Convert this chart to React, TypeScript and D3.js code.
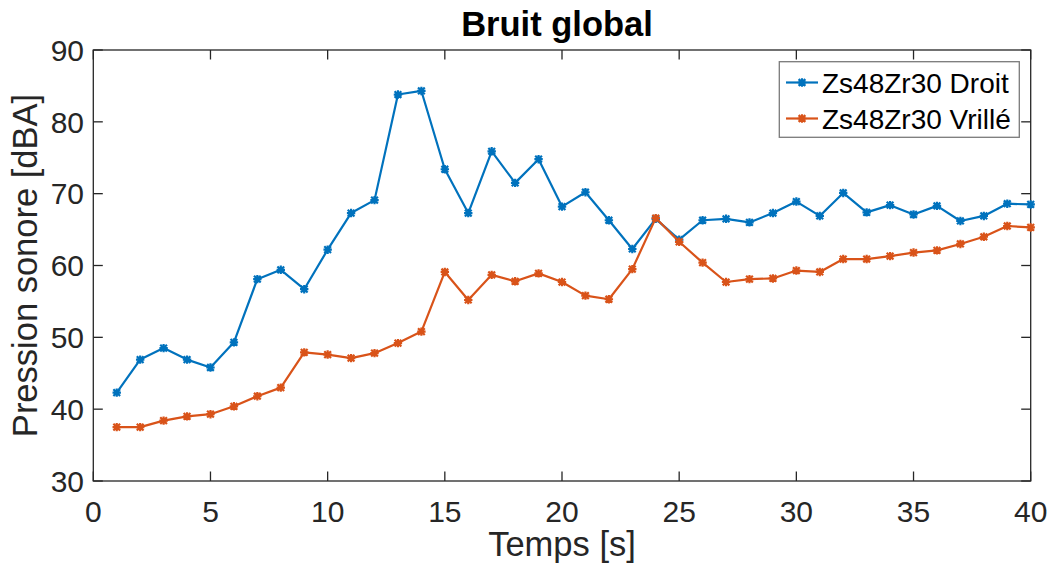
import React, { useRef, useEffect } from 'react';
import * as d3 from 'd3';

const temps = d3.range(1, 41);

const droit = [
  42.3, 46.9, 48.5, 46.9, 45.8, 49.3, 58.1, 59.4, 56.7, 62.2,
  67.3, 69.1, 83.8, 84.3, 73.4, 67.3, 75.9, 71.5, 74.8, 68.2,
  70.2, 66.3, 62.3, 66.5, 63.6, 66.3, 66.5, 66.0, 67.3, 68.9,
  66.9, 70.1, 67.4, 68.4, 67.1, 68.3, 66.2, 66.9, 68.6, 68.5,
];

const vrille = [
  37.5, 37.5, 38.4, 39.0, 39.3, 40.4, 41.8, 43.0, 47.9, 47.6,
  47.1, 47.8, 49.2, 50.8, 59.1, 55.2, 58.7, 57.8, 58.9, 57.7,
  55.8, 55.3, 59.5, 66.6, 63.3, 60.4, 57.7, 58.1, 58.2, 59.3,
  59.1, 60.9, 60.9, 61.3, 61.8, 62.1, 63.0, 64.0, 65.5, 65.3,
];

const series = [
  { name: 'Zs48Zr30 Droit', values: droit, color: '#0072BD' },
  { name: 'Zs48Zr30 Vrillé', values: vrille, color: '#D95319' },
];

const xTicks = [0, 5, 10, 15, 20, 25, 30, 35, 40];
const yTicks = [30, 40, 50, 60, 70, 80, 90];

const W = 1052;
const H = 571;
const font = 'Liberation Sans, Arial, Helvetica, sans-serif';
const axisColor = '#262626';

// asterisk marker
const star = (g: any, cx: number, cy: number, color: string) => {
  const r = 4.2;
  const d = r * 0.8;
  const p = `M${cx - r},${cy}L${cx + r},${cy}M${cx},${cy - r}L${cx},${cy + r}` +
    `M${cx - d},${cy - d}L${cx + d},${cy + d}M${cx - d},${cy + d}L${cx + d},${cy - d}`;
  g.append('path').attr('d', p).attr('stroke', color).attr('stroke-width', 2.2).attr('fill', 'none');
};

const App: React.FC = () => {
  const ref = useRef<SVGSVGElement>(null);

  useEffect(() => {
    const svg = d3.select(ref.current);
    svg.selectAll('*').remove();

    const margin = { top: 50, right: W - 1030.7, bottom: H - 481, left: 93.3 };
    const x = d3.scaleLinear().domain([0, 40]).range([margin.left, W - margin.right]);
    const y = d3.scaleLinear().domain([30, 90]).range([H - margin.bottom, margin.top]);

    svg.append('rect').attr('width', W).attr('height', H).attr('fill', '#fff');

    // axes box with inward ticks
    const [x0, x1] = x.range();
    const [y0, y1] = y.range();
    const axes = svg.append('g').attr('stroke', axisColor).attr('stroke-width', 1.3).attr('fill', 'none');
    axes.append('rect').attr('x', x0).attr('y', y1).attr('width', x1 - x0).attr('height', y0 - y1);
    const tl = 9.5;
    xTicks.forEach(t => {
      axes.append('line').attr('x1', x(t)).attr('x2', x(t)).attr('y1', y0).attr('y2', y0 - tl);
      axes.append('line').attr('x1', x(t)).attr('x2', x(t)).attr('y1', y1).attr('y2', y1 + tl);
    });
    yTicks.forEach(t => {
      axes.append('line').attr('x1', x0).attr('x2', x0 + tl).attr('y1', y(t)).attr('y2', y(t));
      axes.append('line').attr('x1', x1).attr('x2', x1 - tl).attr('y1', y(t)).attr('y2', y(t));
    });

    // tick labels
    svg.append('g').selectAll('text').data(xTicks).join('text')
      .attr('x', d => x(d)).attr('y', 521.5)
      .attr('text-anchor', 'middle')
      .attr('font-family', font).attr('font-size', 30).attr('fill', axisColor)
      .text(d => d);
    svg.append('g').selectAll('text').data(yTicks).join('text')
      .attr('x', 84).attr('y', d => y(d)).attr('dy', '0.36em')
      .attr('text-anchor', 'end')
      .attr('font-family', font).attr('font-size', 30).attr('fill', axisColor)
      .text(d => d);

    // labels and title
    svg.append('text')
      .attr('x', (x0 + x1) / 2).attr('y', 556)
      .attr('text-anchor', 'middle')
      .attr('font-family', font).attr('font-size', 34.5).attr('fill', axisColor)
      .text('Temps [s]');
    svg.append('text')
      .attr('transform', `translate(37,${(y0 + y1) / 2}) rotate(-90)`)
      .attr('text-anchor', 'middle')
      .attr('font-family', font).attr('font-size', 34.5).attr('fill', axisColor)
      .text('Pression sonore [dBA]');
    svg.append('text')
      .attr('x', (x0 + x1) / 2 - 5).attr('y', 35.5)
      .attr('text-anchor', 'middle')
      .attr('font-family', font).attr('font-size', 34.5).attr('font-weight', 'bold').attr('fill', '#000')
      .text('Bruit global');

    // series
    const line = d3.line<number>().x((_, i) => x(temps[i])).y(d => y(d));
    series.forEach(s => {
      const g = svg.append('g');
      g.append('path').datum(s.values)
        .attr('fill', 'none').attr('stroke', s.color).attr('stroke-width', 2.2)
        .attr('stroke-linejoin', 'round')
        .attr('d', line);
      s.values.forEach((v, i) => star(g, x(temps[i]), y(v), s.color));
    });

    // legend
    const lg = svg.append('g');
    lg.append('rect').attr('x', 779.3).attr('y', 61.7).attr('width', 240).attr('height', 75.6)
      .attr('fill', '#fff').attr('stroke', '#7a7a7a').attr('stroke-width', 1.3);
    series.forEach((s, i) => {
      const cy = 82.5 + i * 36;
      lg.append('line').attr('x1', 786).attr('x2', 818).attr('y1', cy).attr('y2', cy)
        .attr('stroke', s.color).attr('stroke-width', 2.2);
      star(lg, 802, cy, s.color);
      lg.append('text').attr('x', 822).attr('y', cy).attr('dy', '0.36em')
        .attr('font-family', font).attr('font-size', 28).attr('fill', '#000')
        .text(s.name);
    });
  }, []);

  return (
    <svg ref={ref} width={W} height={H} style={{ position: 'absolute', left: 0, top: 0 }} />
  );
};

export default App;
